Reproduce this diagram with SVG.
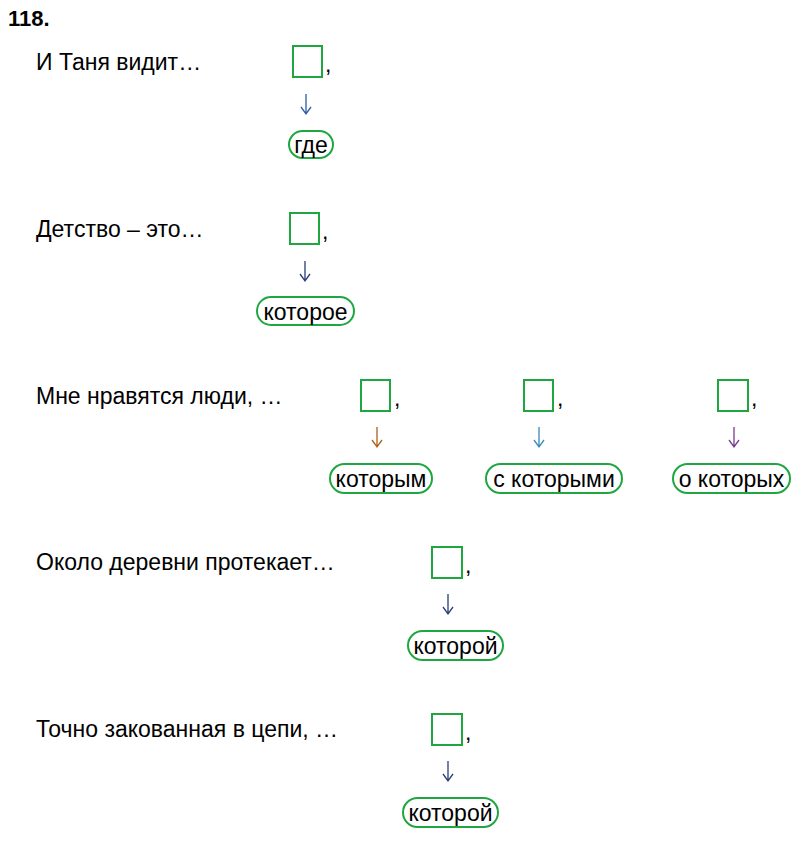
<svg xmlns="http://www.w3.org/2000/svg" width="800" height="842" viewBox="0 0 800 842">
<style>
text{font-family:"Liberation Sans",Arial,sans-serif;font-size:23px;fill:#000}
.b{fill:none;stroke:#1fa640;stroke-width:2}
.o{fill:none;stroke:#1fa640;stroke-width:2}
.w{text-anchor:middle;font-size:23px}
.ar{fill:none;stroke-width:1.3}
</style>
<rect width="800" height="842" fill="#fff"/>
<text x="8" y="26" style="font-weight:bold;font-size:22px">118.</text>
<text x="36" y="70">И Таня видит…</text>
<text x="36" y="237">Детство – это…</text>
<text x="36" y="404">Мне нравятся люди, …</text>
<text x="36" y="570">Около деревни протекает…</text>
<text x="36" y="737">Точно закованная в цепи, …</text>
<g id="connectors">
<path class="ar" stroke="#2a5ea8" d="M306,94V114M301,107L306,114L311,107"/>
<path class="ar" stroke="#2a3e78" d="M305,261V281M300,274L305,281L310,274"/>
<path class="ar" stroke="#b0601a" d="M377,427V447M372,440L377,447L382,440"/>
<path class="ar" stroke="#3a8ab8" d="M539,427V447M534,440L539,447L544,440"/>
<path class="ar" stroke="#7a3a90" d="M734,427V447M729,440L734,447L739,440"/>
<path class="ar" stroke="#2a3e78" d="M448,594V614M443,607L448,614L453,607"/>
<path class="ar" stroke="#2a3e78" d="M448,761V781M443,774L448,781L453,774"/>
</g>
<g id="n1"><rect class="b" x="293" y="46" width="29" height="31"/><text x="325" y="72">,</text></g>
<g id="n1w"><rect class="o" x="289" y="131" width="44" height="27" rx="13.5"/><text class="w" x="311" y="153">где</text></g>
<g id="n2"><rect class="b" x="290" y="213" width="29" height="31"/><text x="322" y="239">,</text></g>
<g id="n2w"><rect class="o" x="257" y="297" width="97" height="28" rx="14"/><text class="w" x="305.5" y="320">которое</text></g>
<g id="n3"><rect class="b" x="361" y="380" width="29" height="31"/><text x="394" y="406">,</text></g>
<g id="n3w"><rect class="o" x="330" y="464" width="102" height="29" rx="14.5"/><text class="w" x="381" y="487">которым</text></g>
<g id="n4"><rect class="b" x="524" y="380" width="29" height="31"/><text x="557" y="406">,</text></g>
<g id="n4w"><rect class="o" x="486" y="464" width="136" height="29" rx="14.5"/><text class="w" x="554" y="487">с которыми</text></g>
<g id="n5"><rect class="b" x="718" y="380" width="30" height="31"/><text x="751" y="406">,</text></g>
<g id="n5w"><rect class="o" x="673" y="464" width="117" height="29" rx="14.5"/><text class="w" x="731.5" y="487">о которых</text></g>
<g id="n6"><rect class="b" x="432" y="547" width="30" height="31"/><text x="465" y="573">,</text></g>
<g id="n6w"><rect class="o" x="408" y="631" width="95" height="29" rx="14.5"/><text class="w" x="455.5" y="654">которой</text></g>
<g id="n7"><rect class="b" x="432" y="714" width="30" height="31"/><text x="465" y="740">,</text></g>
<g id="n7w"><rect class="o" x="403" y="798" width="95" height="29" rx="14.5"/><text class="w" x="450.5" y="821">которой</text></g>
</svg>
